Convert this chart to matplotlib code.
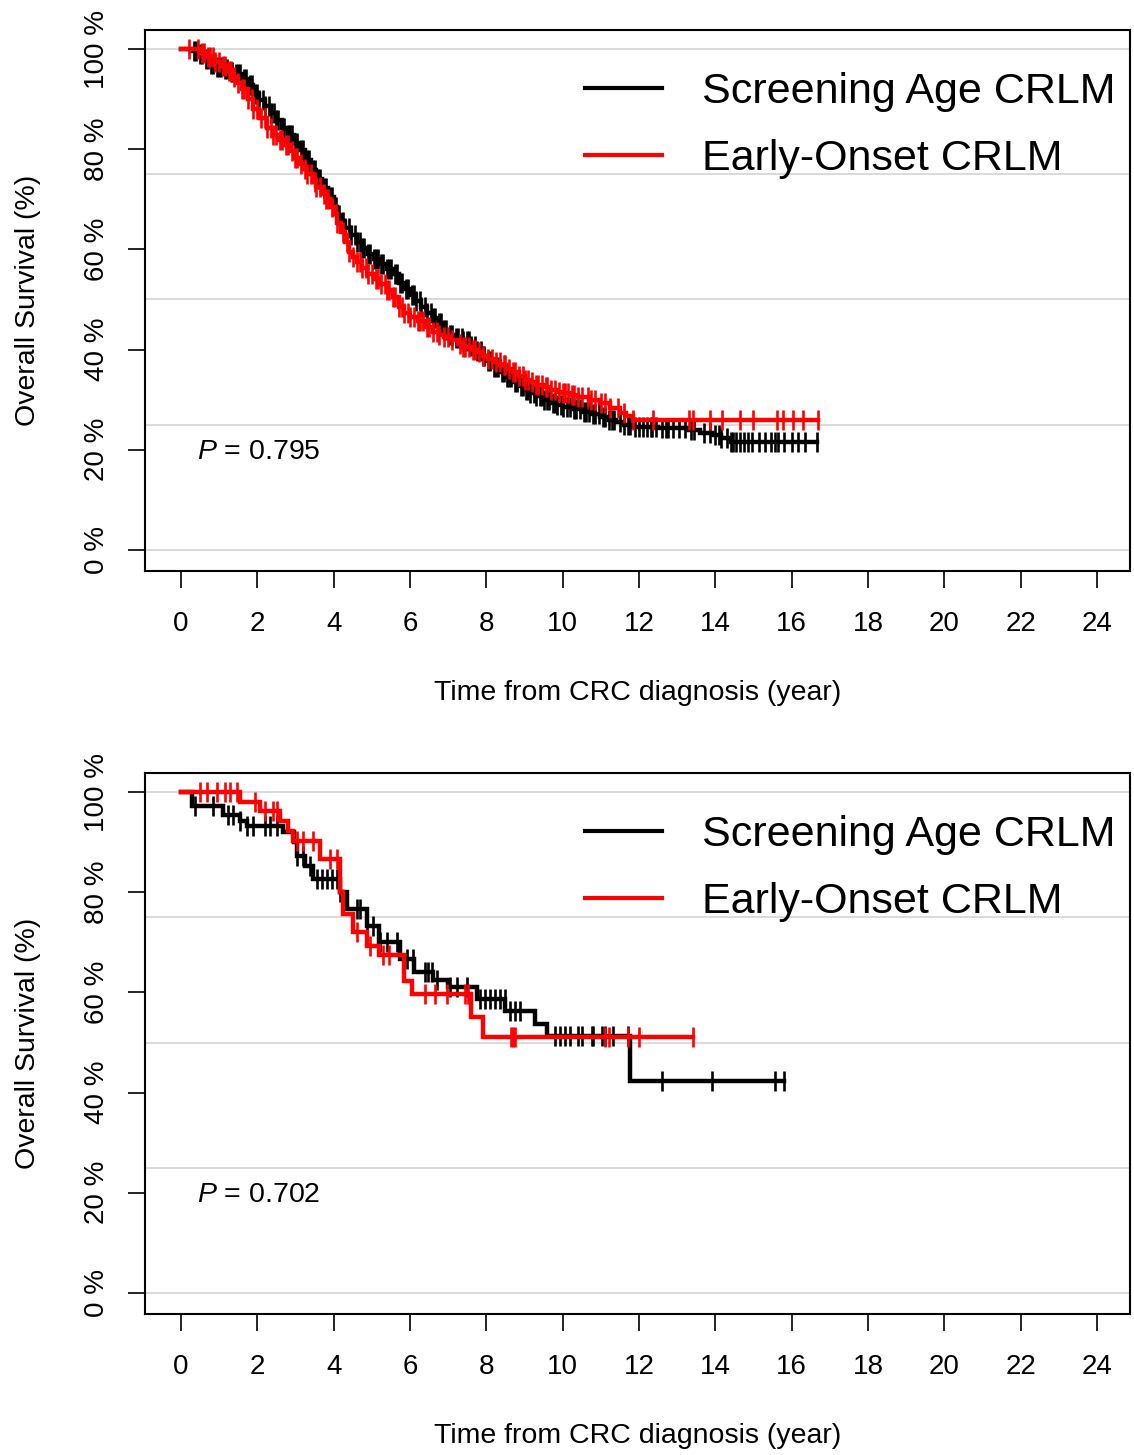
import numpy as np
import matplotlib
matplotlib.use("Agg")
import matplotlib.pyplot as plt

plt.rcParams["font.family"] = ["Liberation Sans", "DejaVu Sans"]
plt.rcParams["mathtext.fontset"] = "custom"
plt.rcParams["mathtext.it"] = "Liberation Sans:italic"
plt.rcParams["mathtext.rm"] = "Liberation Sans"

# ---- data ----
labels = ["Screening Age CRLM", "Early-Onset CRLM"]
p_values = ["0.795", "0.702"]

# top panel: step times (years) and survival (%)
top_black_t = [0, 0.3, 0.45, 0.6, 0.75, 0.9, 1.1, 1.3, 1.45, 1.6, 1.75, 1.9, 2.05, 2.2,
               2.35, 2.5, 2.65, 2.8, 2.95, 3.1, 3.25, 3.4, 3.55, 3.7, 3.85, 4.0, 4.1,
               4.2, 4.3, 4.45, 4.6, 4.75, 4.9, 5.05, 5.2, 5.4, 5.55, 5.7, 5.85, 6.0,
               6.15, 6.3, 6.45, 6.6, 6.75, 6.9, 7.05, 7.2, 7.4, 7.6, 7.75, 7.9, 8.05,
               8.2, 8.36, 8.5, 8.7, 8.85, 9.0, 9.15, 9.3, 9.5, 9.67, 9.85, 10.0, 10.25,
               10.5, 10.75, 10.98, 11.2, 11.4, 11.6, 11.84, 12.5, 13.3, 13.6, 13.9,
               14.15, 14.4]
top_black_s = [100, 99.6, 99, 98, 97, 96.5, 96, 95.5, 95, 94, 92.8, 91, 89.8, 88.6,
               87.2, 85.8, 84.3, 82.8, 81.3, 79.8, 77.8, 75.8, 74, 72.2, 70.4, 68.5, 66.8,
               65.5, 64.2, 62.8, 61.5, 60.2, 59, 58, 57, 56, 55, 53.2, 52, 50.8,
               49.6, 48.4, 47.2, 46.2, 45.2, 44, 43, 42.4, 41.8, 40.8, 39.8, 38.8, 37.7,
               36.5, 35.5, 34.6, 33.5, 32.7, 32, 31.4, 30.8, 30, 29.3, 28.9, 28.6, 28.1,
               27.6, 27.1, 26.5, 26, 25.5, 25, 24.6, 24.3, 24, 23.4, 23,
               22.3, 21.6]
top_black_end = 16.65
top_black_cens = [0.35, 0.4, 0.5, 0.55, 0.65, 0.7, 0.8, 0.85, 0.95, 1.0, 1.05, 1.15, 1.2,
                  1.3, 1.35, 1.45, 1.5, 1.55, 1.65, 1.7, 1.8, 1.85, 1.95, 2.0, 2.05, 2.15,
                  2.2, 2.3, 2.35, 2.45, 2.5, 2.55, 2.65, 2.7, 2.8, 2.85, 2.9, 3.0, 3.05,
                  3.15, 3.2, 3.3, 3.35, 3.45, 3.5, 3.6, 3.65, 3.75, 3.8, 3.9, 3.95, 4.05,
                  4.1, 4.15, 4.25, 4.3, 4.4, 4.45, 4.55, 4.6, 4.7, 4.75, 4.8, 4.9, 4.95,
                  5.05, 5.1, 5.15, 5.25, 5.3, 5.4, 5.45, 5.5, 5.6, 5.65, 5.75, 5.8, 5.9,
                  5.95, 6.05, 6.1, 6.15, 6.25, 6.3, 6.4, 6.45, 6.55, 6.6, 6.65, 6.75, 6.8,
                  6.9, 6.95, 7.05, 7.1, 7.2, 7.25, 7.35, 7.4, 7.5, 7.55, 7.6, 7.7, 7.75,
                  7.85, 7.9, 7.95, 8.05, 8.1, 8.2, 8.25, 8.3, 8.4, 8.45, 8.55, 8.6, 8.65,
                  8.75, 8.8, 8.9, 8.95, 9.05, 9.1, 9.15, 9.25, 9.3, 9.4, 9.45, 9.5, 9.6,
                  9.65, 9.75, 9.8, 9.85, 9.95, 10.0, 10.1, 10.2, 10.3, 10.35, 10.45,
                  10.55, 10.6, 10.7, 10.8, 10.85, 10.95, 11.05, 11.1, 11.2, 11.3, 11.35,
                  11.5, 11.6, 11.7, 11.75, 11.9, 12.0, 12.1, 12.2, 12.3, 12.35, 12.45,
                  12.6, 12.7, 12.75, 12.9, 13.05, 13.2, 13.35, 13.45, 13.7, 13.85, 14.0,
                  14.1, 14.15, 14.3, 14.4, 14.45, 14.55, 14.65, 14.75, 14.85, 14.95,
                  15.15, 15.3, 15.45, 15.55, 15.65, 15.8, 16.0, 16.15, 16.35, 16.65]

top_red_t = [0, 0.5, 0.7, 0.9, 1.05, 1.2, 1.37, 1.5, 1.6, 1.75, 1.9, 2.05, 2.25, 2.4,
             2.55, 2.7, 2.85, 3.0, 3.1, 3.2, 3.3, 3.45, 3.55, 3.7, 3.8, 3.9, 4.0, 4.1,
             4.2, 4.3, 4.4, 4.5, 4.6, 4.75, 4.87, 5.05, 5.2, 5.4, 5.55, 5.7, 5.85, 6.0,
             6.2, 6.4, 6.6, 6.75, 6.9, 7.05, 7.25, 7.4, 7.6, 7.75, 7.9, 8.05, 8.2, 8.36,
             8.55, 8.7, 8.85, 9.0, 9.15, 9.3, 9.5, 9.67, 9.85, 10.0, 10.2, 10.4, 10.7,
             10.98, 11.25, 11.5, 11.65, 11.84]
top_red_s = [100, 99.2, 98.5, 97.5, 96.6, 95.6, 94.5, 93.3, 92, 90, 88, 86.2, 84.2, 82.8,
             81.8, 80.8, 79.6, 78.2, 77, 76, 75, 73.5, 72.5, 71, 70, 68.5, 67, 65.2,
             63.5, 61.5, 59.5, 58.5, 57.5, 56.2, 55, 54, 53, 51.8, 50.5, 48.5, 47.2, 46.5,
             45.6, 44.5, 43.6, 43, 42.5, 42, 41.2, 40.5, 40, 39.5, 38.8, 38.2, 37.6, 37,
             36.2, 35.5, 34.8, 34, 33.5, 33, 32.5, 32, 31.6, 31.3, 30.9, 30.5, 29.9,
             29.3, 28.3, 27.3, 26.7, 26]
top_red_end = 16.69
top_red_cens = [0.2, 0.45, 0.55, 0.6, 0.7, 0.75, 0.85, 0.9, 1.0, 1.1, 1.15, 1.25, 1.3,
                1.4, 1.5, 1.6, 1.65, 1.75, 1.85, 1.9, 2.0, 2.1, 2.2, 2.25, 2.35, 2.4,
                2.5, 2.6, 2.65, 2.75, 2.8, 2.9, 3.0, 3.05, 3.15, 3.25, 3.3, 3.4, 3.5,
                3.55, 3.65, 3.75, 3.8, 3.85, 3.95, 4.05, 4.1, 4.25, 4.35, 4.4, 4.5, 4.6,
                4.7, 4.75, 4.85, 4.9, 5.0, 5.1, 5.15, 5.25, 5.35, 5.4, 5.45, 5.55, 5.6,
                5.7, 5.8, 5.85, 5.95, 6.0, 6.1, 6.2, 6.25, 6.35, 6.45, 6.5, 6.6, 6.7,
                6.75, 6.9, 7.0, 7.1, 7.3, 7.4, 7.45, 7.55, 7.65, 7.7, 7.8, 7.9, 8.05,
                8.15, 8.25, 8.35, 8.45, 8.5, 8.6, 8.7, 8.75, 8.85, 8.95, 9.0, 9.1, 9.2,
                9.3, 9.35, 9.45, 9.55, 9.6, 9.7, 9.8, 9.9, 10.0, 10.05, 10.15, 10.25,
                10.3, 10.4, 10.5, 10.65, 10.75, 10.85, 11.0, 11.1, 11.25, 11.45, 11.6,
                11.84, 12.37, 13.3, 13.4, 13.86, 14.17, 14.64, 14.99, 15.61, 15.77,
                16.03, 16.3, 16.69]

# bottom panel
bot_black_t = [0, 0.29, 1.1, 1.55, 1.73, 2.67, 2.95, 3.04, 3.25, 3.46, 4.17, 4.35, 4.87,
               5.2, 5.74, 6.1, 6.6, 7.0, 7.75, 8.5, 9.27, 9.6, 11.76]
bot_black_s = [100, 97.2, 95.4, 94.2, 93.2, 92, 90, 87.2, 85.2, 82.6, 80, 76.6, 73.3,
               70, 66.7, 64, 62.5, 61, 58.7, 56.3, 53.7, 51.3, 42.3]
bot_black_end = 15.8
bot_black_cens = [0.37, 0.84, 1.23, 1.36, 1.55, 1.73, 1.89, 2.2, 2.33, 2.52, 3.04, 3.2,
                  3.38, 3.56, 3.69, 3.83, 3.96, 4.09, 4.17, 4.61, 4.69, 4.87, 5.03, 5.21,
                  5.4, 5.66, 5.92, 6.08, 6.39, 6.47, 6.57, 6.71, 7.05, 7.23, 7.49, 7.83,
                  7.96, 8.1, 8.23, 8.36, 8.49, 8.62, 8.75, 8.88, 9.8, 9.93, 10.06, 10.19,
                  10.4, 10.5, 10.76, 10.79, 11.03, 11.1, 11.32, 11.71, 12.6, 13.9, 15.56,
                  15.8]

bot_red_t = [0, 1.55, 2.07, 2.6, 2.8, 2.94, 3.64, 4.17, 4.25, 4.5, 4.87, 5.2, 5.85, 6.05,
             7.6, 7.9]
bot_red_s = [100, 98, 96.2, 94.2, 92.2, 90.2, 86.6, 80, 75.6, 72, 69.3, 67.5, 62.3, 59.7,
             55.1, 51.1]
bot_red_end = 13.41
bot_red_cens = [0.5, 0.68, 0.94, 1.15, 1.28, 1.47, 1.94, 2.2, 2.41, 2.52, 3.04, 3.2, 3.46,
                3.9, 4.09, 4.6, 4.95, 5.3, 5.45, 6.39, 6.65, 6.97, 7.44, 7.52, 8.65, 8.7,
                8.75, 11.1, 11.2, 11.7, 12.0, 13.41]

x_ticks = list(range(0, 25, 2))
y_ticks = [0, 20, 40, 60, 80, 100]
y_ticklabels = [f"{v} %" for v in y_ticks]
grid_levels = [0, 25, 50, 75, 100]


def km_curve(ax, t, s, end, cens, color):
    t = np.append(t, end)
    s = np.append(s, s[-1])
    ax.step(t, s, where="post", color=color, lw=3.2, solid_joinstyle="miter")
    idx = np.searchsorted(t, cens, side="right") - 1
    ax.plot(cens, s[idx], ls="none", marker="|", ms=14.5, mew=1.9, color=color)


def style_axes(ax, pval):
    ax.set_xlim(-0.94, 24.86)
    ax.set_ylim(-4.2, 103.8)
    for g in grid_levels:
        ax.axhline(g, color="#d4d4d4", lw=1.2, zorder=0)
    ax.set_xticks(x_ticks)
    ax.set_yticks(y_ticks)
    ax.set_yticklabels(y_ticklabels, rotation=90, va="center")
    ax.tick_params(axis="both", length=12, width=1.2, labelsize=20, color="black")
    ax.tick_params(axis="x", pad=17)
    ax.tick_params(axis="y", pad=13)
    for sp in ax.spines.values():
        sp.set_linewidth(1.5)
    ax.set_xlabel("Time from CRC diagnosis (year)", fontsize=20.5, labelpad=31)
    ax.set_ylabel("Overall Survival (%)", fontsize=20.5, labelpad=31)
    ax.text(0.42, 19.5, rf"$P$ = {pval}", fontsize=20.5, va="center", ha="left")
    ax.legend(loc="upper right", bbox_to_anchor=(0.985, 0.922), frameon=False,
              fontsize=31, handlelength=1.79, handletextpad=0.93, labelspacing=0.62,
              borderpad=0, borderaxespad=0)


fig = plt.figure(figsize=(11.34, 14.55), dpi=100)
ax1 = fig.add_axes([0.1279, 0.6076, 0.8686, 0.3718])
ax2 = fig.add_axes([0.1279, 0.0969, 0.8686, 0.3718])

km_curve(ax1, top_black_t, top_black_s, top_black_end, top_black_cens, "black")
km_curve(ax1, top_red_t, top_red_s, top_red_end, top_red_cens, "red")
km_curve(ax2, bot_black_t, bot_black_s, bot_black_end, bot_black_cens, "black")
km_curve(ax2, bot_red_t, bot_red_s, bot_red_end, bot_red_cens, "red")

for ax, p in [(ax1, p_values[0]), (ax2, p_values[1])]:
    ax.plot([], [], color="black", lw=3, label=labels[0])
    ax.plot([], [], color="red", lw=3, label=labels[1])
    style_axes(ax, p)

fig.savefig("out.png", dpi=100)
